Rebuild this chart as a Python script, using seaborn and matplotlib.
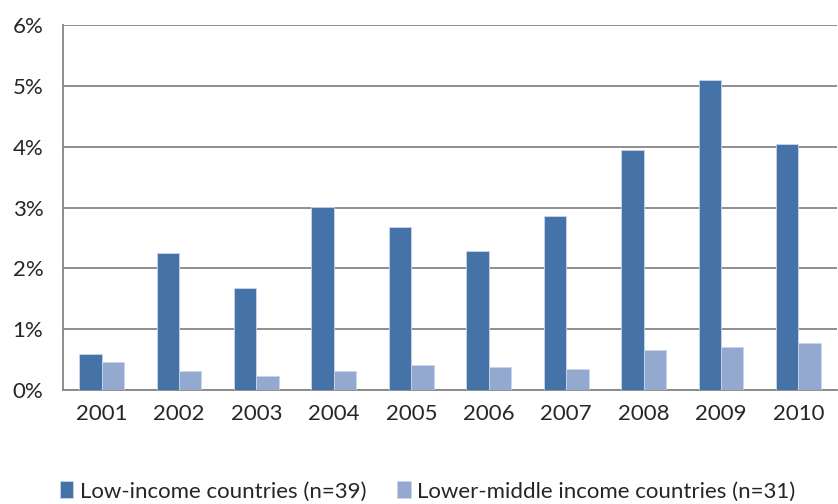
import pandas as pd
import numpy as np
import matplotlib
matplotlib.use('Agg')
import matplotlib.pyplot as plt
import seaborn as sns
from matplotlib.ticker import FuncFormatter, FixedLocator

# dados (% do PIB)
years = ['2001', '2002', '2003', '2004', '2005', '2006', '2007', '2008', '2009', '2010']
low_income = [0.59, 2.25, 1.68, 3.01, 2.68, 2.29, 2.86, 3.95, 5.10, 4.05]
lower_middle = [0.46, 0.31, 0.23, 0.31, 0.41, 0.38, 0.35, 0.66, 0.71, 0.77]
series_names = ['Low-income countries (n=39)', 'Lower-middle income countries (n=31)']

df = pd.DataFrame({
    'year': years * 2,
    'value': low_income + lower_middle,
    'group': [series_names[0]] * len(years) + [series_names[1]] * len(years),
})

sns.set_style('white')
plt.rcParams['font.family'] = ['Lato', 'DejaVu Sans']

grid_col = '#868686'
fig = plt.figure(figsize=(8.38, 5.04), dpi=100)
ax = fig.add_axes([0.075, 0.226, 0.924, 0.724])

sns.barplot(data=df, x='year', y='value', hue='group', order=years,
            hue_order=series_names, palette=['#4572A7', '#93A9CF'],
            saturation=1, width=0.58, gap=0, edgecolor='#C9D6EA', linewidth=0.6,
            ax=ax, zorder=3)

ax.set_ylim(0, 6)
ax.set_xlim(-0.5, 9.5)
ax.set_yticks(range(0, 7))
ax.yaxis.set_major_formatter(FuncFormatter(lambda v, p: f'{int(v)}%'))
ax.yaxis.grid(True, color=grid_col, linewidth=1.3, zorder=0)
ax.set_axisbelow(True)
ax.set_xlabel('')
ax.set_ylabel('')

for s in ['top', 'right']:
    ax.spines[s].set_visible(False)
for s in ['left', 'bottom']:
    ax.spines[s].set_color(grid_col)
    ax.spines[s].set_linewidth(1.3)

ax.tick_params(axis='x', which='major', length=0, pad=10, labelsize=16)
ax.tick_params(axis='y', which='major', length=6, color=grid_col, width=1.3,
               direction='out', pad=8, labelsize=16)
ax.xaxis.set_minor_locator(FixedLocator(np.arange(-0.5, 10, 1)))
ax.tick_params(axis='x', which='minor', length=6, color=grid_col, width=1.3,
               direction='out')

ax.legend(loc='lower left', bbox_to_anchor=(-0.03, -0.36), ncol=2, frameon=False,
          fontsize=16, handlelength=0.6, handleheight=0.8, handletextpad=0.3,
          columnspacing=1.4)

plt.savefig('out.png', dpi=100)
plt.close()
